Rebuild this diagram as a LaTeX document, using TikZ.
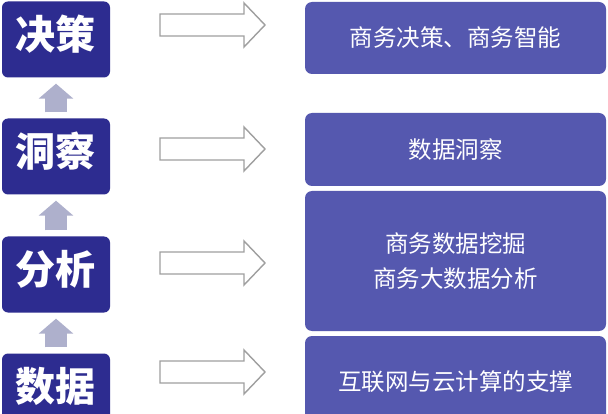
\documentclass[tikz,border=0pt]{standalone}
\usepackage{fontspec}
\newfontfamily\cjk{Noto Sans CJK SC}
\usetikzlibrary{arrows.meta}
\definecolor{navy}{HTML}{2D2C90}
\definecolor{slate}{HTML}{5558AF}
\definecolor{upgray}{HTML}{AEB0CC}
\begin{document}
\begin{tikzpicture}[x=1pt,y=-1pt, every node/.style={font=\cjk,text=white},
  lvl/.style={fill=navy,rounded corners=6pt,minimum width=108pt,minimum height=76pt,inner sep=0pt,
    text height=28pt,text depth=8pt,font=\cjk\bfseries\fontsize{40}{40}\selectfont},
  desc/.style={fill=slate,rounded corners=7pt,minimum width=301pt,inner sep=0pt,align=center,
    font=\cjk\fontsize{23.5}{35}\selectfont},
  up/.style={draw=upgray,line width=22pt,-{Triangle[width=34pt,length=15pt]}},
  hollow/.style={draw=gray!75,fill=white,line width=1.4pt,line join=miter}]
\clip (0,0) rectangle (608,414);
\fill[white] (0,0) rectangle (608,414);
% four levels on the left
\node[lvl] (dec) at (56,39.5) {决策};
\node[lvl] (ins) at (56,156.5) {洞察};
\node[lvl] (ana) at (56,274.5) {分析};
\node[lvl] (dat) at (56,391.5) {数据};
\draw[up] ([yshift=6pt]ins.north) -- ([yshift=-6pt]dec.south);
\draw[up] ([yshift=6pt]ana.north) -- ([yshift=-6pt]ins.south);
\draw[up] ([yshift=6pt]dat.north) -- ([yshift=-6pt]ana.south);
% what each level means
\node[desc,minimum height=72pt] (bi) at (455.5,38) {商务决策、商务智能};
\node[desc,minimum height=73pt] (insight) at (455.5,149.5) {数据洞察};
\node[desc,minimum height=140pt] (mining) at (455.5,261) {商务数据挖掘\\商务大数据分析};
\node[desc,minimum height=92pt] (cloud) at (455.5,382) {互联网与云计算的支撑};
\foreach \y in {25,149,263,372}
  \draw[hollow] (160,\y-11) -- (244,\y-11) -- (244,\y-22) -- (265,\y) -- (244,\y+22) -- (244,\y+11) -- (160,\y+11) -- cycle;
\end{tikzpicture}
\end{document}
